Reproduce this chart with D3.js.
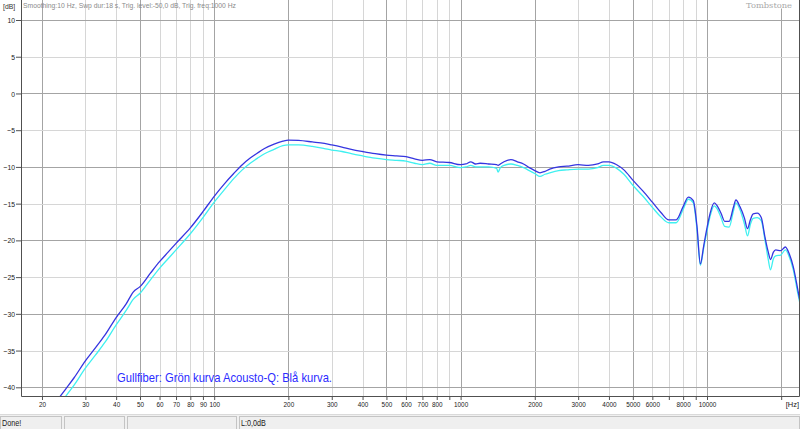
<!DOCTYPE html>
<html><head><meta charset="utf-8">
<script src="https://cdn.jsdelivr.net/npm/d3@7"></script>
<style>html,body{margin:0;padding:0;background:#fff;overflow:hidden}</style>
</head><body><svg id="c" width="800" height="429"></svg>
<script>
const freqs = [23.5, 25, 27, 30, 33, 36, 40, 44, 47, 50, 55, 60, 65, 70, 80, 90, 100, 110, 120, 130, 140, 150, 160, 175, 190, 200, 220, 250, 280, 300, 330, 360, 400, 450, 500, 550, 600, 650, 700, 750, 800, 900, 1000, 1050, 1100, 1150, 1200, 1300, 1400, 1420, 1450, 1500, 1600, 1700, 1800, 1900, 2000, 2100, 2200, 2300, 2500, 2700, 3000, 3300, 3600, 3800, 4000, 4300, 4600, 5000, 5500, 6000, 6500, 7000, 7500, 8000, 8400, 8800, 9100, 9400, 9700, 10000, 10300, 10700, 11000, 11400, 11800, 12300, 12800, 13100, 13600, 14200, 14600, 15000, 15400, 16000, 16600, 17200, 17700, 18100, 18600, 19000, 19900, 20800, 21600, 22400, 23300, 23900];
const acoustoQ = [-41.4, -40.2, -38.7, -36.4, -34.6, -32.9, -30.5, -28.6, -27.0, -26.3, -24.5, -22.9, -21.6, -20.4, -18.3, -16.1, -14.0, -12.3, -10.9, -9.7, -8.8, -8.1, -7.5, -6.9, -6.5, -6.35, -6.4, -6.6, -6.8, -7.0, -7.3, -7.6, -7.9, -8.2, -8.4, -8.5, -8.6, -8.9, -9.1, -9.0, -9.3, -9.4, -9.7, -9.6, -9.3, -9.6, -9.5, -9.6, -9.7, -9.8, -9.6, -9.3, -9.0, -9.3, -9.6, -10.1, -10.5, -10.8, -10.6, -10.3, -10.0, -9.9, -9.7, -9.8, -9.6, -9.3, -9.3, -9.7, -10.4, -11.8, -13.3, -14.8, -16.2, -17.2, -17.2, -15.4, -14.1, -14.6, -18.0, -23.2, -20.7, -18.3, -16.3, -14.9, -15.3, -16.3, -17.4, -17.4, -15.5, -14.5, -15.4, -17.0, -18.4, -17.2, -16.4, -16.3, -16.9, -19.6, -21.5, -22.6, -21.6, -21.3, -21.4, -20.9, -21.9, -23.6, -26.5, -28.5];
const gullfiber = [-42.6, -41.2, -39.7, -37.4, -35.6, -33.9, -31.5, -29.5, -28.0, -27.2, -25.4, -23.8, -22.5, -21.3, -19.1, -16.9, -14.8, -13.1, -11.6, -10.4, -9.5, -8.8, -8.2, -7.6, -7.1, -7.0, -7.0, -7.2, -7.5, -7.7, -7.9, -8.2, -8.5, -8.8, -9.0, -9.1, -9.2, -9.5, -9.7, -9.5, -9.8, -9.8, -10.1, -10.0, -9.8, -10.0, -10.0, -10.0, -10.2, -10.7, -10.1, -9.8, -9.6, -9.8, -10.1, -10.5, -10.9, -11.3, -11.0, -10.8, -10.5, -10.4, -10.3, -10.3, -10.1, -9.8, -9.8, -10.2, -11.0, -12.5, -14.0, -15.5, -16.8, -17.6, -17.6, -15.8, -14.4, -14.9, -18.4, -23.4, -21.0, -18.7, -16.7, -15.3, -15.7, -16.9, -18.1, -18.2, -16.0, -14.9, -15.8, -17.8, -19.4, -17.8, -17.0, -16.9, -17.3, -20.0, -22.5, -24.0, -22.5, -22.1, -22.0, -21.3, -22.3, -24.0, -27.0, -28.8];

const gridFreqs = [20, 30, 40, 50, 60, 70, 80, 90, 100, 200, 300, 400, 500, 600, 700, 800, 900, 1000, 2000, 3000, 4000, 5000, 6000, 7000, 8000, 9000, 10000, 20000];
const majorFreqs = [20, 50, 100, 200, 500, 1000, 2000, 5000, 10000, 20000];
const xTickLabels = [20, 30, 40, 50, 60, 70, 80, 90, 100, 200, 300, 400, 500, 600, 700, 800, 1000, 2000, 3000, 4000, 5000, 6000, 8000, 10000];
const yTicks = [10, 5, 0, -5, -10, -15, -20, -25, -30, -35, -40];
const headerText = "Smoothing:10 Hz, Swp dur:18 s, Trig. level:-50,0 dB, Trig. freq:1000 Hz";
const legendText = "Gullfiber: Grön kurva Acousto-Q: Blå kurva.";
const statusTexts = ["Done!", "", "", "L:0,0dB"];

const FONT = "'Liberation Sans', Arial, sans-serif";
const SQ = "scale(0.85,1)";
const L = 21.5, R = 799, T = 0, B = 396.5;

const svg = d3.select("#c");
const x = d3.scaleLog().domain([100, 10000]).range([214.2, 707]);
const y = d3.scaleLinear().domain([-40, 10]).range([387.3, 20]);
const px = v => Math.round(v) + 0.5;

svg.append("rect").attr("width", 800).attr("height", 429).attr("fill", "#fff");

// grid
const grid = svg.append("g");
gridFreqs.forEach(f => {
  grid.append("line").attr("x1", px(x(f))).attr("x2", px(x(f))).attr("y1", T).attr("y2", B)
    .attr("stroke", majorFreqs.includes(f) ? "#a4a4a4" : "#d6d6d6").attr("stroke-width", 1);
});
yTicks.forEach(v => {
  grid.append("line").attr("x1", L).attr("x2", R).attr("y1", px(y(v))).attr("y2", px(y(v)))
    .attr("stroke", v % 10 === 0 ? "#a4a4a4" : "#d6d6d6").attr("stroke-width", 1);
});

// curves
svg.append("clipPath").attr("id", "clip").append("rect")
  .attr("x", L).attr("y", T).attr("width", R - L).attr("height", B - T);
const line = d3.line().x(d => x(d[0])).y(d => y(d[1])).curve(d3.curveMonotoneX);
const g = svg.append("g").attr("clip-path", "url(#clip)");
g.append("path").datum(freqs.map((f, i) => [f, gullfiber[i]]))
  .attr("d", line).attr("fill", "none").attr("stroke", "#3ff0f0").attr("stroke-width", 1.3);
g.append("path").datum(freqs.map((f, i) => [f, acoustoQ[i]]))
  .attr("d", line).attr("fill", "none").attr("stroke", "#3535e0").attr("stroke-width", 1.3);

// axes
const xAxis = d3.axisBottom(x).tickValues(gridFreqs).tickSize(4).tickPadding(2)
  .tickFormat(d => xTickLabels.includes(d) ? String(d) : "");
const gx = svg.append("g").attr("transform", `translate(0,${B - 0.5})`).call(xAxis);
gx.select(".domain").remove();
gx.selectAll("line").attr("stroke", "#505050");
gx.selectAll("text").attr("font-family", FONT).attr("font-size", 7.5).attr("fill", "#202020").attr("transform", SQ);

const yAxis = d3.axisLeft(y).tickValues(yTicks).tickSize(5).tickPadding(2).tickFormat(d3.format("d"));
const gy = svg.append("g").attr("transform", `translate(${L - 0.5},0)`).call(yAxis);
gy.select(".domain").remove();
gy.selectAll("line").attr("stroke", "#505050");
gy.selectAll("text").attr("font-family", FONT).attr("font-size", 8).attr("fill", "#202020").attr("transform", SQ);

// frame lines
svg.append("line").attr("x1", L).attr("x2", L).attr("y1", 0).attr("y2", B).attr("stroke", "#505050");
svg.append("line").attr("x1", L).attr("x2", R + 0.5).attr("y1", B).attr("y2", B).attr("stroke", "#505050");
svg.append("line").attr("x1", R + 0.5).attr("x2", R + 0.5).attr("y1", 0).attr("y2", B).attr("stroke", "#505050");

svg.append("text").attr("x", R).attr("y", 406.5).attr("text-anchor", "end")
  .attr("font-family", FONT).attr("font-size", 7.5).attr("fill", "#202020").text("[Hz]");

// header
svg.append("text").attr("transform", "translate(3,8.5) " + SQ).attr("font-family", FONT).attr("font-size", 8)
  .attr("fill", "#303030").text("[dB]");
svg.append("text").attr("x", 23).attr("y", 8).attr("font-family", FONT).attr("font-size", 8)
  .attr("textLength", 213).attr("lengthAdjust", "spacingAndGlyphs")
  .attr("fill", "#8a8a8a").text(headerText);
svg.append("rect").attr("x", 742).attr("y", 0).attr("width", 54).attr("height", 8.5).attr("fill", "#fff");
svg.append("text").attr("x", 746).attr("y", 8).attr("font-family", "'DejaVu Serif', serif").attr("font-size", 8)
  .attr("textLength", 46).attr("lengthAdjust", "spacingAndGlyphs").attr("fill", "#a8a8a8").text("Tombstone");

// legend note
svg.append("text").attr("x", 117).attr("y", 382).attr("font-family", FONT).attr("font-size", 13)
  .attr("textLength", 215).attr("lengthAdjust", "spacingAndGlyphs").attr("fill", "#2b2bff").text(legendText);

// status bar
svg.append("rect").attr("x", 0).attr("y", 414.5).attr("width", 800).attr("height", 15).attr("fill", "#f0f0f0");
svg.append("line").attr("x1", 0).attr("x2", 800).attr("y1", 414.5).attr("y2", 414.5).attr("stroke", "#dadada");
const panels = [[0, 62], [64, 125], [127, 237], [239, 800]];
panels.forEach((p, i) => {
  svg.append("rect").attr("x", p[0] + 0.5).attr("y", 416.5).attr("width", p[1] - p[0] - 1).attr("height", 13)
    .attr("fill", "#efefef").attr("stroke", "#c4c4c4");
  if (statusTexts[i]) svg.append("text").attr("transform", `translate(${p[0] + 2},425.5) ${SQ}`)
    .attr("font-family", FONT).attr("font-size", 8.5).attr("fill", "#202020").text(statusTexts[i]);
});
</script></body></html>
